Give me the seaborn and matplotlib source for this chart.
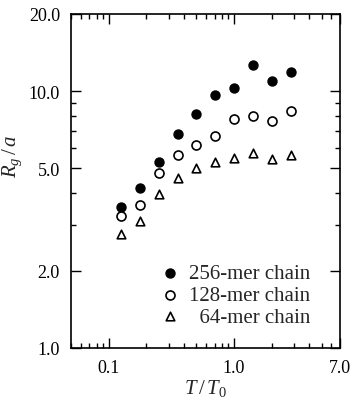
import matplotlib
matplotlib.use("Agg")
import matplotlib.pyplot as plt
import seaborn as sns
import pandas as pd
from matplotlib.ticker import FixedLocator, FixedFormatter, LogLocator, NullFormatter

# Reduced temperature and radius of gyration for three chain lengths
t_ratio = [0.125, 0.177, 0.25, 0.354, 0.5, 0.707, 1.0, 1.414, 2.0, 2.828]
rg_256 = [3.55, 4.21, 5.29, 6.82, 8.13, 9.70, 10.3, 12.6, 10.97, 11.9]
rg_128 = [3.26, 3.61, 4.80, 5.66, 6.19, 6.68, 7.80, 8.03, 7.64, 8.38]
rg_64 = [2.79, 3.13, 3.97, 4.59, 5.02, 5.29, 5.48, 5.73, 5.45, 5.65]
series_labels = ["256-mer chain", "128-mer chain", "  64-mer chain"]

x_ticks = [0.1, 1.0, 7.0]
x_tick_labels = ["0.1", "1.0", "7.0"]
y_ticks = [1.0, 2.0, 5.0, 10.0, 20.0]
y_tick_labels = ["1.0", "2.0", "5.0", "10.0", "20.0"]

sns.set_style("ticks")
plt.rcParams["font.family"] = ["Liberation Serif", "DejaVu Serif"]
plt.rcParams["mathtext.fontset"] = "custom"
plt.rcParams["mathtext.rm"] = "Liberation Serif"
plt.rcParams["mathtext.it"] = "Liberation Serif:italic"

fig = plt.figure(figsize=(3.5, 4.02), dpi=100)
ax = fig.add_axes([0.203, 0.132, 0.768, 0.831])

styles = [
    dict(marker="o", color="black", edgecolor="black", s=42, linewidth=1.0),
    dict(marker="o", color="white", edgecolor="black", s=42, linewidth=1.2),
    dict(marker="^", color="white", edgecolor="black", s=38, linewidth=1.2),
]
for vals, lab, st in zip([rg_256, rg_128, rg_64], series_labels, styles):
    df = pd.DataFrame({"T": t_ratio, "Rg": vals})
    sns.scatterplot(data=df, x="T", y="Rg", ax=ax, label=lab, zorder=3, **st)

ax.set_xscale("log")
ax.set_yscale("log")
ax.set_xlim(0.05, 7.0)
ax.set_ylim(1.0, 20.0)

ax.xaxis.set_major_locator(FixedLocator(x_ticks))
ax.xaxis.set_major_formatter(FixedFormatter(x_tick_labels))
ax.xaxis.set_minor_locator(LogLocator(base=10, subs=range(2, 10)))
ax.xaxis.set_minor_formatter(NullFormatter())
ax.yaxis.set_major_locator(FixedLocator(y_ticks))
ax.yaxis.set_major_formatter(FixedFormatter(y_tick_labels))
ax.yaxis.set_minor_locator(LogLocator(base=10, subs=range(2, 10)))
ax.yaxis.set_minor_formatter(NullFormatter())

ax.tick_params(which="both", direction="in", top=True, right=True,
               colors="black", labelsize=13, width=1.0)
ax.tick_params(which="major", length=7, pad=8)
ax.tick_params(which="minor", length=3.5)
for sp in ax.spines.values():
    sp.set_linewidth(1.2)
    sp.set_color("black")

ax.set_xlabel(r"$T\,/\,T_{\mathrm{0}}$", fontsize=15, labelpad=1)
ax.set_ylabel(r"$R_g\,/\,a$", fontsize=15)
ax.yaxis.set_label_coords(-0.175, 0.575)

ax.legend(loc="upper left", bbox_to_anchor=(0.338, 0.252), frameon=False,
          fontsize=15, borderpad=0, borderaxespad=0, handlelength=0.8,
          handletextpad=0.5, labelspacing=0.1, markerscale=1.0)

fig.savefig("out.png", dpi=100, facecolor="white")
